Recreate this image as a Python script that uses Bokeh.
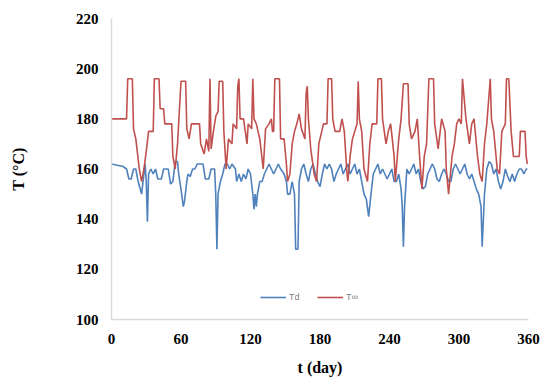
from bokeh.plotting import figure
from bokeh.embed import file_html
from bokeh.resources import INLINE
from bokeh.models import Legend, LegendItem, FixedTicker, Range1d

# Red series (T-infinity): day / temperature breakpoints
too_day = [0, 13, 14, 18, 19, 21, 24, 26, 28, 30, 32, 36, 37, 41, 42, 45, 46, 52, 53, 55, 57, 60, 64, 65, 67, 69, 76, 77, 80, 82, 84, 85, 86, 88, 90, 92, 93, 96, 97, 99, 101, 104, 105, 108, 109, 110, 111, 114, 117, 118, 121, 122, 123, 125, 128, 131, 133, 136, 138, 139, 140, 141, 145, 146, 149, 151, 152, 154, 156, 158, 160, 162, 164, 167, 168, 169, 170, 172, 175, 177, 179, 183, 186, 187, 190, 191, 193, 197, 199, 201, 203, 204, 206, 208, 210, 212, 213, 214, 216, 218, 221, 223, 225, 229, 230, 233, 234, 237, 239, 241, 244, 245, 248, 250, 252, 256, 257, 259, 262, 264, 266, 268, 270, 272, 274, 278, 279, 282, 285, 288, 289, 291, 294, 296, 298, 300, 302, 303, 306, 309, 311, 313, 316, 318, 320, 322, 324, 327, 328, 330, 333, 335, 337, 340, 341, 343, 345, 347, 352, 353, 357, 358, 359]
too_val = [180, 180, 196, 196, 176, 172, 160, 155, 160, 167, 175, 175, 196, 196, 184, 184, 178, 178, 165, 160, 170, 195, 195, 176, 172, 178, 178, 170, 166, 172, 167, 196, 168, 175, 181, 183, 195, 195, 175, 160, 172, 170, 178, 176, 193, 196, 180, 180, 170, 178, 176, 196, 180, 178, 172, 160, 176, 178, 180, 175, 175, 196, 196, 172, 172, 162, 155, 158, 170, 175, 178, 182, 176, 172, 190, 193, 180, 168, 158, 155, 170, 178, 178, 196, 196, 180, 175, 175, 180, 175, 160, 155, 165, 172, 175, 178, 195, 180, 175, 160, 155, 170, 178, 178, 196, 196, 180, 170, 175, 178, 165, 155, 172, 180, 194, 194, 178, 172, 175, 180, 165, 152, 165, 170, 196, 196, 178, 168, 180, 175, 160, 150, 165, 170, 178, 180, 178, 196, 180, 170, 178, 180, 165, 158, 155, 170, 178, 196, 180, 175, 160, 158, 175, 178, 196, 196, 175, 165, 165, 175, 175, 165, 162]

# Blue series (Td)
td_day = [0, 10, 13, 15, 17, 19, 21, 23, 26, 28, 29, 30, 31, 32, 34, 36, 38, 40, 43, 45, 49, 51, 53, 55, 57, 58, 60, 62, 63, 65, 66, 68, 70, 72, 74, 79, 81, 84, 86, 89, 90, 91, 92, 94, 96, 98, 100, 102, 104, 107, 108, 110, 112, 114, 116, 118, 120, 122, 123, 124, 125, 126, 128, 130, 132, 134, 136, 138, 140, 142, 144, 146, 149, 151, 152, 154, 156, 158, 159, 161, 162, 164, 166, 168, 170, 172, 174, 176, 178, 180, 182, 184, 186, 188, 190, 192, 194, 196, 198, 200, 202, 204, 206, 208, 210, 212, 214, 216, 218, 220, 222, 224, 226, 228, 230, 232, 234, 236, 238, 240, 242, 244, 246, 248, 250, 251, 252, 253, 255, 257, 259, 261, 263, 265, 267, 269, 271, 273, 275, 277, 279, 281, 283, 285, 287, 289, 291, 293, 295, 297, 299, 301, 303, 305, 307, 309, 311, 313, 315, 317, 319, 320, 322, 324, 326, 328, 330, 332, 334, 336, 338, 340, 342, 344, 346, 348, 350, 352, 354, 356, 358, 359]
td_val = [162, 161, 160, 156, 156, 160, 160, 155, 150, 158, 162, 155, 139, 158, 160, 158, 160, 156, 156, 160, 160, 154, 155, 163, 163, 158, 152, 145, 147, 155, 158, 157, 160, 160, 162, 162, 156, 156, 160, 160, 150, 128, 150, 155, 158, 162, 162, 160, 162, 160, 155, 158, 155, 158, 156, 160, 158, 150, 144, 150, 145, 150, 155, 155, 158, 160, 162, 160, 158, 160, 162, 160, 158, 155, 150, 150, 155, 150, 128, 128, 155, 160, 162, 158, 155, 160, 162, 158, 155, 153, 158, 162, 160, 162, 160, 155, 158, 160, 162, 158, 160, 162, 158, 160, 162, 158, 160, 155, 150, 148, 141, 150, 158, 160, 162, 158, 160, 158, 156, 158, 160, 155, 155, 158, 152, 145, 129, 145, 160, 158, 160, 162, 158, 160, 155, 152, 153, 158, 160, 162, 160, 156, 155, 158, 160, 158, 155, 155, 160, 162, 160, 158, 160, 162, 158, 156, 158, 155, 152, 150, 145, 129, 150, 160, 163, 162, 158, 160, 155, 152, 155, 160, 157, 155, 158, 155, 158, 160, 160, 158, 160, 160]

x_ticks = [0, 60, 120, 180, 240, 300, 360]
y_ticks = [100, 120, 140, 160, 180, 200, 220]
series_labels = ["Td", "T\u221e"]

p = figure(width=543, height=378, output_backend="svg", toolbar_location=None,
           x_range=Range1d(0, 360), y_range=Range1d(100, 220),
           min_border_left=111, min_border_right=15, min_border_top=18, min_border_bottom=56)
p.outline_line_color = None
p.xgrid.grid_line_color = None
p.ygrid.grid_line_color = None

r_td = p.line(td_day, td_val, line_color="#4f81bd", line_width=1.6)
r_too = p.line(too_day, too_val, line_color="#c0504d", line_width=1.6)

for ax in (p.xaxis[0], p.yaxis[0]):
    ax.axis_line_color = "#d9d9d9"
    ax.axis_line_width = 1.5
    ax.major_tick_line_color = None
    ax.minor_tick_line_color = None
    ax.major_label_text_font = "Liberation Serif"
    ax.major_label_text_font_style = "bold"
    ax.major_label_text_font_size = "15px"
    ax.major_label_text_color = "black"
    ax.axis_label_text_font = "Liberation Serif"
    ax.axis_label_text_font_style = "bold"
    ax.axis_label_text_font_size = "16px"
    ax.axis_label_text_color = "black"

p.xaxis[0].ticker = FixedTicker(ticks=x_ticks)
p.yaxis[0].ticker = FixedTicker(ticks=y_ticks)
p.xaxis[0].major_label_standoff = 8
p.yaxis[0].major_label_standoff = 7
p.xaxis[0].axis_label = "t (day)"
p.yaxis[0].axis_label = "T (\u00b0C)"
p.xaxis[0].axis_label_standoff = 12
p.yaxis[0].axis_label_standoff = 46

legend = Legend(items=[LegendItem(label=series_labels[0], renderers=[r_td]),
                       LegendItem(label=series_labels[1], renderers=[r_too])],
                orientation="horizontal", location=(149, 17),
                border_line_color=None, background_fill_alpha=0,
                label_text_font_size="9px", label_text_color="#7f7f7f",
                glyph_width=26, glyph_height=8, label_standoff=3, spacing=8,
                padding=2, margin=0)
p.add_layout(legend, "center")

open("out.html", "w").write(file_html(p, INLINE))
